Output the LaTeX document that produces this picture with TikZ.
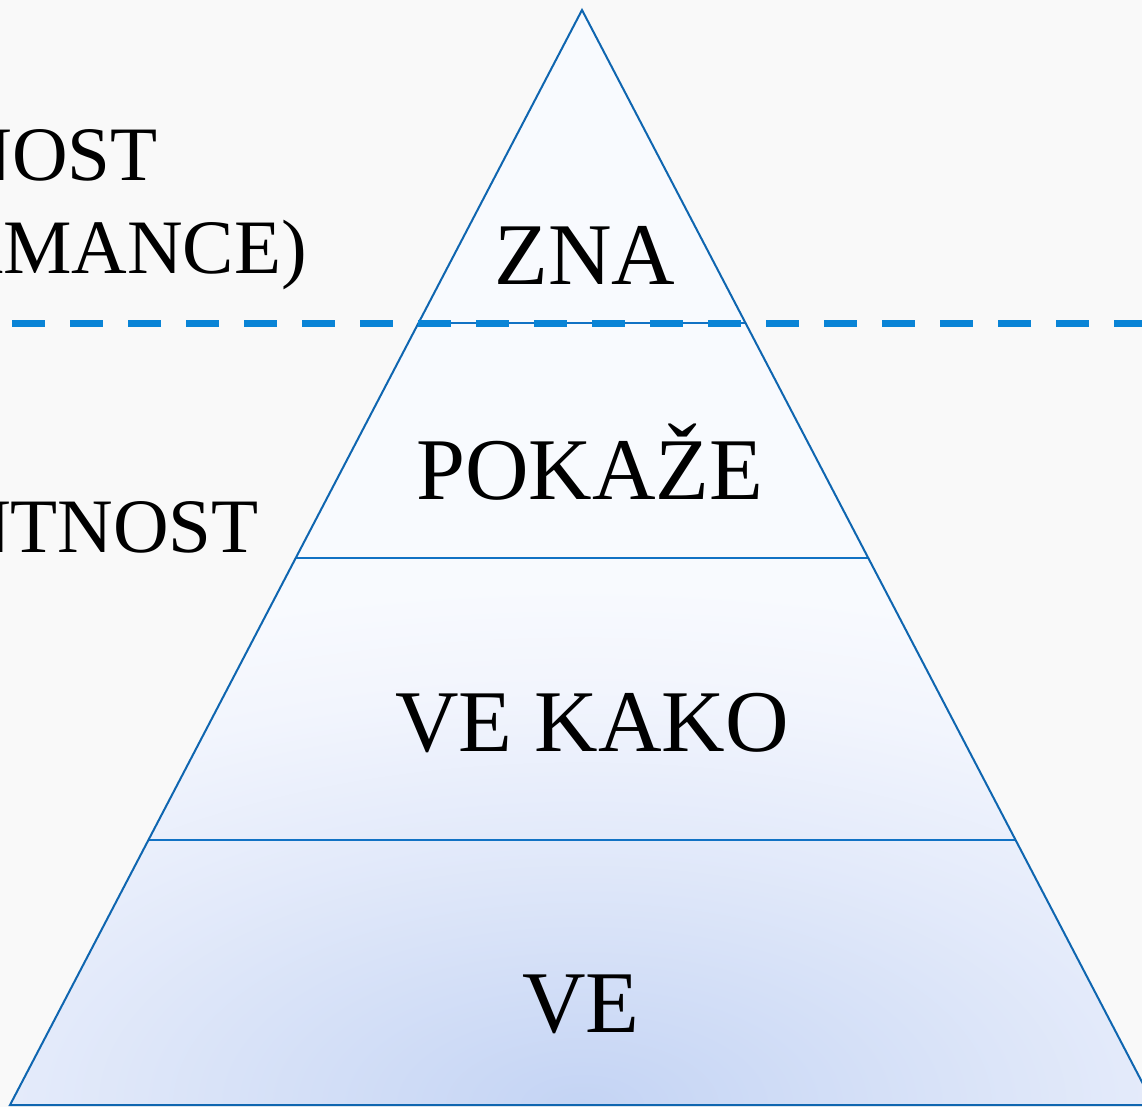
\documentclass[tikz,border=0pt]{standalone}
\usepackage{fontspec}
\setmainfont{Liberation Serif}
\definecolor{bgc}{HTML}{F9F9F9}
\definecolor{edgec}{HTML}{0F66B0}
\definecolor{linec}{HTML}{1172C4}
\definecolor{dashc}{HTML}{0A84D6}
\definecolor{topc}{HTML}{F8FAFE}
\definecolor{ca}{HTML}{C4D4F4}
\definecolor{cb}{HTML}{E3EAFA}
\definecolor{cc}{HTML}{F2F5FD}
\pgfdeclareradialshading{pyrshade}{\pgfpoint{0bp}{0bp}}{color(0bp)=(ca); color(13bp)=(cb); color(20bp)=(cc); color(25bp)=(topc); color(50bp)=(topc)}
\begin{document}
\begin{tikzpicture}[x=1pt,y=-1pt,
  lbl/.style={anchor=base,inner sep=0pt,font=\fontsize{88}{100}\selectfont},
  side/.style={anchor=base east,inner sep=0pt,font=\fontsize{77}{90}\selectfont},
  layer/.style={draw=linec,line width=1.6pt}]
\useasboundingbox (0,0) rectangle (1142,1107);
\fill[bgc] (0,0) rectangle (1142,1107);
\coordinate (apex) at (582,10);
\coordinate (bl) at (10,1105);
\coordinate (br) at (1154,1105);
\fill[topc] (apex) -- (bl) -- (br) -- cycle;
\begin{scope}
\clip (apex) -- (bl) -- (br) -- cycle;
\shade[shading=pyrshade] (582,1105) ellipse (1050 and 520);
\end{scope}
% layer lines
\coordinate (l1a) at (418.6,323); \coordinate (l1b) at (745.4,323);
\coordinate (l2a) at (296,558); \coordinate (l2b) at (868,558);
\coordinate (l3a) at (149,840); \coordinate (l3b) at (1015,840);
\draw[layer] (l1a) -- (l1b);
\draw[layer] (l2a) -- (l2b);
\draw[layer] (l3a) -- (l3b);
\draw[draw=edgec,line width=2pt,line join=miter] (apex) -- (bl) -- (br) -- cycle;
% dashed line
\coordinate (d1) at (12,323);
\coordinate (d2) at (1150,323);
\draw[dashc,line width=7pt,dash pattern=on 33pt off 25pt] (d1) -- (d2);
% labels
\node[lbl] (zna) at (585,284) {ZNA};
\node[lbl] (pokaze) at (590,499) {POKAŽE};
\node[lbl] (vekako) at (592,751) {VE KAKO};
\node[lbl] (ve) at (581,1032) {VE};
\node[side] (s1) at (158,181) {NOST};
\node[side] (s2) at (307,273) {RMANCE)};
\node[side] (s3) at (259,552) {NTNOST};
\end{tikzpicture}
\end{document}
